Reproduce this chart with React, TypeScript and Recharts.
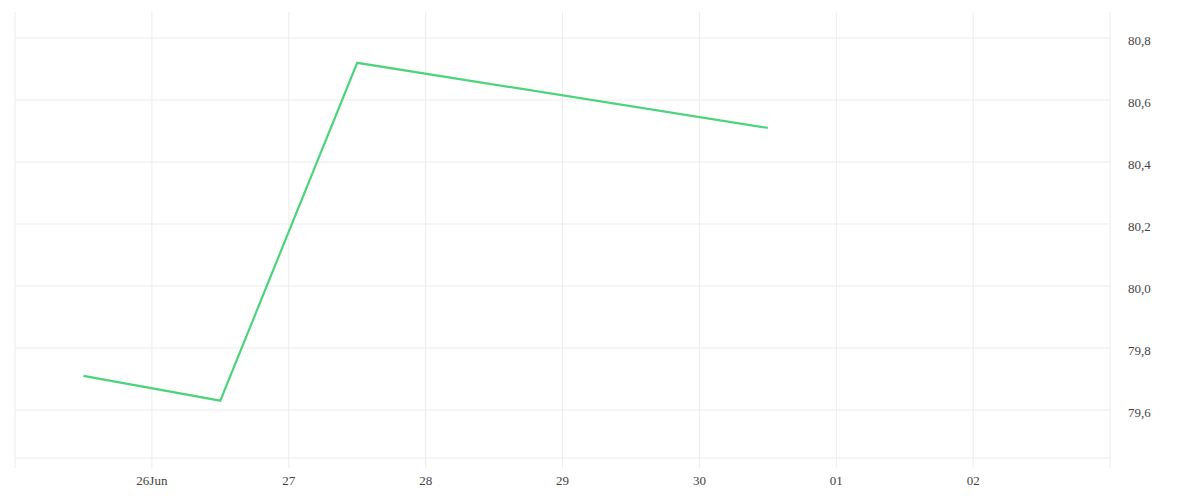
import { LineChart, Line, XAxis, YAxis, CartesianGrid, ReferenceLine } from 'recharts';

// Daily fixes (noon UTC), gap over the weekend
const DATES = ['2025-06-25T12:00', '2025-06-26T12:00', '2025-06-27T12:00', '2025-06-30T12:00'];
const VALUES = [79.71, 79.63, 80.72, 80.51];

// Day ticks on the time axis, first and last unlabelled
const TICK_DATES = [
  '2025-06-25', '2025-06-26', '2025-06-27', '2025-06-28', '2025-06-29',
  '2025-06-30', '2025-07-01', '2025-07-02', '2025-07-03',
];
const TICK_LABELS = ['', '26Jun', '27', '28', '29', '30', '01', '02', ''];

const Y_TICKS = [79.6, 79.8, 80.0, 80.2, 80.4, 80.6, 80.8];
const Y_DOMAIN = [79.445, 80.884];

const toTs = (s: string) => Date.parse(s.length > 10 ? s + ':00Z' : s + 'T00:00:00Z');

const data = DATES.map((d, i) => ({ t: toTs(d), value: VALUES[i] }));
const xTicks = TICK_DATES.map(toTs);

const GRID = '#ececec';
const TEXT = '#444';

export default function App() {
  return (
    <div style={{ position: 'absolute', left: 0, top: 0, width: 1200, height: 500, background: '#fff' }}>
      <LineChart
        width={1200}
        height={500}
        data={data}
        margin={{ top: 12, left: 15, right: 30, bottom: 12 }}
      >
        {/* vertical day lines only; horizontal lines drawn per y tick below */}
        <CartesianGrid stroke={GRID} horizontal={false} />
        {Y_TICKS.map((v) => (
          <ReferenceLine key={v} y={v} stroke={GRID} strokeWidth={1} ifOverflow="hidden" />
        ))}
        <XAxis
          dataKey="t"
          type="number"
          scale="time"
          domain={[xTicks[0], xTicks[xTicks.length - 1]]}
          ticks={xTicks}
          tickFormatter={(v: number) => TICK_LABELS[xTicks.indexOf(v)] ?? ''}
          height={30}
          axisLine={{ stroke: GRID }}
          tickLine={{ stroke: GRID }}
          tickSize={10}
          tickMargin={8}
          tick={{ fill: TEXT, fontSize: 13 }}
          interval={0}
        />
        <YAxis
          orientation="right"
          domain={Y_DOMAIN}
          ticks={Y_TICKS}
          allowDataOverflow
          tickFormatter={(v: number) => v.toFixed(1).replace('.', ',')}
          width={60}
          axisLine={false}
          tickLine={false}
          tickSize={0}
          tickMargin={18}
          tick={{ fill: TEXT, fontSize: 13, dy: 2 }}
          interval={0}
        />
        <Line
          type="linear"
          dataKey="value"
          stroke="#4cd47b"
          strokeWidth={2.2}
          dot={false}
          isAnimationActive={false}
        />
      </LineChart>
    </div>
  );
}
